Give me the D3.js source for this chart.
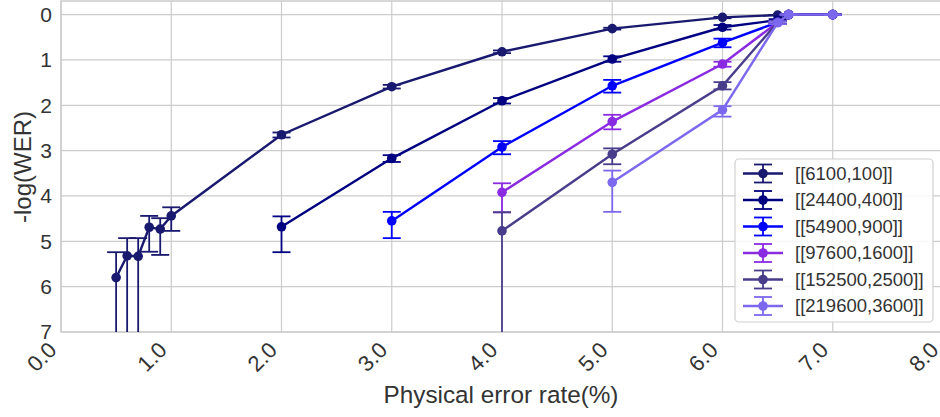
<!DOCTYPE html>
<html>
<head>
<meta charset="utf-8">
<script src="https://cdn.jsdelivr.net/npm/d3@7"></script>
<style>
body { margin: 0; background: #fff; }
text { font-family: "Liberation Sans", Arial, sans-serif; fill: #333; }
</style>
</head>
<body>
<div id="chart"></div>
<script>
// series labels + colours
var names = ["[[6100,100]]", "[[24400,400]]", "[[54900,900]]", "[[97600,1600]]", "[[152500,2500]]", "[[219600,3600]]"];
var colors = ["#191970", "#000080", "#0000ff", "#8a2be2", "#483d8b", "#7b68ee"];

// x values (physical error rate, %)
var x1 = [0.5, 0.6, 0.7, 0.8, 0.9, 1.0, 2.0, 3.0, 4.0, 5.0, 6.0, 6.5, 6.6, 7.0];
var x2 = [2.0, 3.0, 4.0, 5.0, 6.0, 6.5, 6.6, 7.0];
var x3 = [3.0, 4.0, 5.0, 6.0, 6.5, 6.6, 7.0];
var x4 = [4.0, 5.0, 6.0, 6.5, 6.6, 7.0];
var x5 = [4.0, 5.0, 6.0, 6.5, 6.6, 7.0];
var x6 = [5.0, 6.0, 6.5, 6.6, 7.0];

// -log(WER) values
var y1 = [5.80, 5.32, 5.33, 4.69, 4.73, 4.44, 2.65, 1.59, 0.82, 0.31, 0.06, 0.01, 0, 0];
var y2 = [4.68, 3.17, 1.90, 0.98, 0.28, 0.12, 0, 0];
var y3 = [4.55, 2.92, 1.57, 0.62, 0.17, 0, 0];
var y4 = [3.92, 2.36, 1.09, 0.17, 0, 0];
var y5 = [4.77, 3.08, 1.57, 0.17, 0, 0];
var y6 = [3.70, 2.10, 0.18, 0, 0];

// error bar ends (upper end = smaller value, lower end = larger value; Infinity = unbounded)
var up1 = [5.24, 4.93, 4.93, 4.44, 4.49, 4.25, 2.60, 1.55, 0.79, 0.29, 0.05, 0.01, 0, 0];
var lo1 = [Infinity, Infinity, Infinity, 5.23, 5.30, 4.77, 2.71, 1.63, 0.85, 0.33, 0.08, 0.01, 0, 0];
var up2 = [4.45, 3.10, 1.84, 0.92, 0.23, 0.10, 0, 0];
var lo2 = [5.24, 3.25, 1.96, 1.04, 0.33, 0.14, 0, 0];
var up3 = [4.35, 2.79, 1.44, 0.53, 0.14, 0, 0];
var lo3 = [4.93, 3.08, 1.72, 0.72, 0.20, 0, 0];
var up4 = [3.72, 2.21, 1.04, 0.14, 0, 0];
var lo4 = [4.36, 2.53, 1.15, 0.20, 0, 0];
var up5 = [4.36, 2.95, 1.49, 0.14, 0, 0];
var lo5 = [Infinity, 3.30, 1.65, 0.20, 0, 0];
var up6 = [3.44, 2.02, 0.15, 0, 0];
var lo6 = [4.35, 2.25, 0.21, 0, 0];

var xTicks = [0, 1, 2, 3, 4, 5, 6, 7, 8];
var yTicks = [0, 1, 2, 3, 4, 5, 6, 7];

var xs = [x1, x2, x3, x4, x5, x6];
var ys = [y1, y2, y3, y4, y5, y6];
var ups = [up1, up2, up3, up4, up5, up6];
var los = [lo1, lo2, lo3, lo4, lo5, lo6];

var series = names.map(function(n, i) {
  return {
    name: n, color: colors[i],
    pts: xs[i].map(function(x, j) { return {x: x, y: ys[i][j], up: ups[i][j], lo: los[i][j]}; })
  };
});

var w = 940, h = 417;
var margin = {top: 1, left: 61, right: -3, bottom: 85};
var plotW = w - margin.left - margin.right;
var plotH = h - margin.top - margin.bottom;

var svg = d3.select("#chart").append("svg")
  .attr("width", w)
  .attr("height", h);

var xScale = d3.scaleLinear().domain([0, 8]).range([margin.left, margin.left + plotW]);
var yScale = d3.scaleLinear().domain([-0.3, 7]).range([margin.top, margin.top + plotH]);

svg.append("defs").append("clipPath").attr("id", "clip")
  .append("rect")
  .attr("x", margin.left).attr("y", margin.top)
  .attr("width", plotW).attr("height", plotH);

// grid
var grid = svg.append("g");
grid.selectAll(".gx").data(xTicks).enter().append("line")
  .attr("x1", function(d) { return xScale(d); })
  .attr("x2", function(d) { return xScale(d); })
  .attr("y1", margin.top).attr("y2", margin.top + plotH)
  .attr("stroke", "#cccccc").attr("stroke-width", 1.2);
grid.selectAll(".gy").data(yTicks).enter().append("line")
  .attr("x1", margin.left).attr("x2", margin.left + plotW)
  .attr("y1", function(d) { return yScale(d); })
  .attr("y2", function(d) { return yScale(d); })
  .attr("stroke", "#cccccc").attr("stroke-width", 1.2);

// frame
svg.append("rect")
  .attr("x", margin.left).attr("y", margin.top)
  .attr("width", plotW).attr("height", plotH)
  .attr("fill", "none").attr("stroke", "#cccccc").attr("stroke-width", 1.5);

// axes (text only, seaborn whitegrid has no tick marks)
var xAxis = d3.axisBottom(xScale).tickValues(xTicks).tickFormat(d3.format(".1f")).tickSize(0).tickPadding(8);
var gx = svg.append("g")
  .attr("transform", "translate(0," + (margin.top + plotH) + ")")
  .call(xAxis);
gx.select(".domain").remove();
gx.selectAll("text")
  .style("font-size", "22px")
  .attr("text-anchor", "end")
  .attr("x", 0)
  .attr("y", 0)
  .attr("dy", "0.35em")
  .attr("transform", "translate(-9,14) rotate(-45)");

var yAxis = d3.axisLeft(yScale).tickValues(yTicks).tickSize(0).tickPadding(9);
var gy = svg.append("g")
  .attr("transform", "translate(" + margin.left + ",0)")
  .call(yAxis);
gy.select(".domain").remove();
gy.selectAll("text").style("font-size", "21px");

svg.append("text")
  .attr("x", margin.left + 440)
  .attr("y", 403)
  .attr("text-anchor", "middle")
  .style("font-size", "24.3px")
  .text("Physical error rate(%)");

svg.append("text")
  .attr("transform", "translate(31," + (margin.top + 166) + ") rotate(-90)")
  .attr("text-anchor", "middle")
  .style("font-size", "24px")
  .text("-log(WER)");

// data
var plot = svg.append("g").attr("clip-path", "url(#clip)");
var line = d3.line()
  .x(function(d) { return xScale(d.x); })
  .y(function(d) { return yScale(d.y); });
var capW = 9;

series.forEach(function(s) {
  var g = plot.append("g");
  g.append("path")
    .datum(s.pts)
    .attr("d", line)
    .attr("fill", "none")
    .attr("stroke", s.color)
    .attr("stroke-width", 2.4);
  var eb = g.selectAll(".eb").data(s.pts).enter().append("g");
  eb.append("line")
    .attr("x1", function(d) { return xScale(d.x); })
    .attr("x2", function(d) { return xScale(d.x); })
    .attr("y1", function(d) { return yScale(d.up); })
    .attr("y2", function(d) { return isFinite(d.lo) ? yScale(d.lo) : yScale(9); })
    .attr("stroke", s.color).attr("stroke-width", 1.8);
  eb.append("line")
    .attr("x1", function(d) { return xScale(d.x) - capW; })
    .attr("x2", function(d) { return xScale(d.x) + capW; })
    .attr("y1", function(d) { return yScale(d.up); })
    .attr("y2", function(d) { return yScale(d.up); })
    .attr("stroke", s.color).attr("stroke-width", 1.8);
  eb.filter(function(d) { return isFinite(d.lo); }).append("line")
    .attr("x1", function(d) { return xScale(d.x) - capW; })
    .attr("x2", function(d) { return xScale(d.x) + capW; })
    .attr("y1", function(d) { return yScale(d.lo); })
    .attr("y2", function(d) { return yScale(d.lo); })
    .attr("stroke", s.color).attr("stroke-width", 1.8);
  g.selectAll("circle").data(s.pts).enter().append("circle")
    .attr("cx", function(d) { return xScale(d.x); })
    .attr("cy", function(d) { return yScale(d.y); })
    .attr("r", 4.8)
    .attr("fill", s.color);
});

// legend
var leg = svg.append("g");
leg.append("rect")
  .attr("x", 735).attr("y", 159)
  .attr("width", 198).attr("height", 163)
  .attr("rx", 4)
  .attr("fill", "#fff").attr("fill-opacity", 0.85)
  .attr("stroke", "#d0d0d0").attr("stroke-width", 1.2);
var rows = leg.selectAll(".row").data(series).enter().append("g")
  .attr("transform", function(d, i) { return "translate(0," + (173.5 + i * 26.5) + ")"; });
rows.append("line")
  .attr("x1", 743).attr("x2", 783).attr("y1", 0).attr("y2", 0)
  .attr("stroke", function(d) { return d.color; }).attr("stroke-width", 2.4);
rows.append("line")
  .attr("x1", 763).attr("x2", 763).attr("y1", -9).attr("y2", 9)
  .attr("stroke", function(d) { return d.color; }).attr("stroke-width", 1.8);
rows.append("line")
  .attr("x1", 763 - capW).attr("x2", 763 + capW).attr("y1", -9).attr("y2", -9)
  .attr("stroke", function(d) { return d.color; }).attr("stroke-width", 1.8);
rows.append("line")
  .attr("x1", 763 - capW).attr("x2", 763 + capW).attr("y1", 9).attr("y2", 9)
  .attr("stroke", function(d) { return d.color; }).attr("stroke-width", 1.8);
rows.append("circle")
  .attr("cx", 763).attr("cy", 0).attr("r", 4.8)
  .attr("fill", function(d) { return d.color; });
rows.append("text")
  .attr("x", 795).attr("y", 0)
  .attr("dy", "0.35em")
  .style("font-size", "18.5px")
  .text(function(d) { return d.name; });
</script>
</body>
</html>
